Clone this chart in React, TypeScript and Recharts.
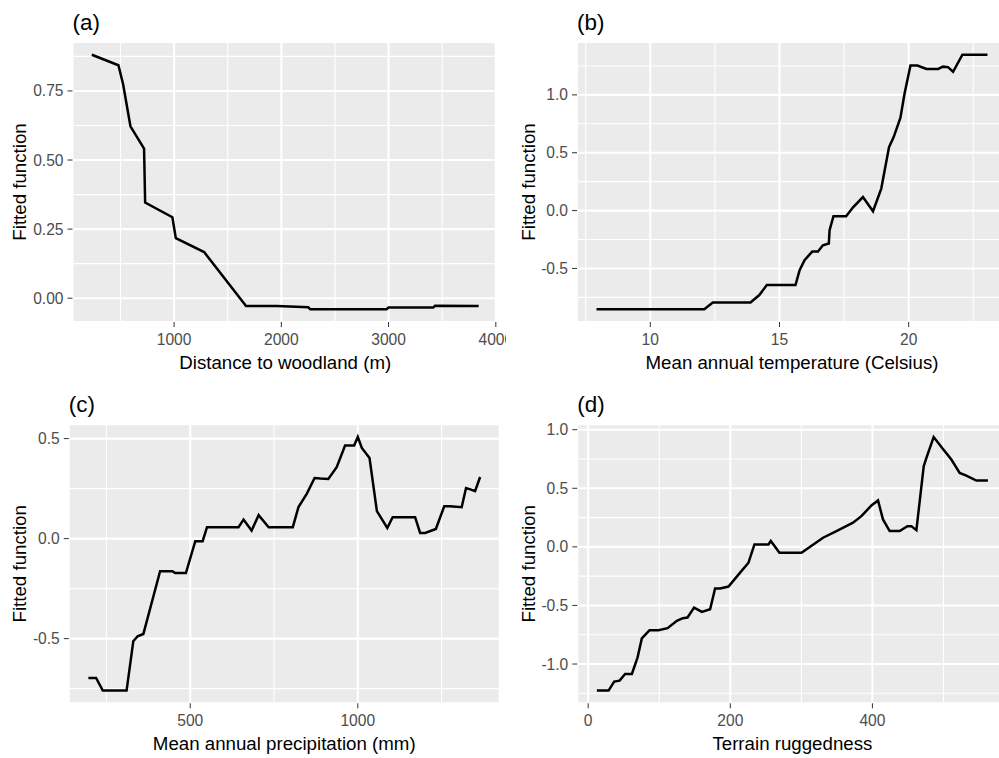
import React from 'react';
import { LineChart, Line, XAxis, YAxis, CartesianGrid } from 'recharts';

const FONT = '"Liberation Sans", Arial, Helvetica, sans-serif';

// (a) distance to woodland
const woodDist = [233, 481, 525, 593, 720, 730, 984, 1016, 1280, 1671, 1957, 2252, 2270, 2981, 3000, 3417, 3433, 3840];
const woodFit = [0.881, 0.843, 0.773, 0.622, 0.541, 0.346, 0.293, 0.217, 0.167, -0.028, -0.028, -0.033, -0.04, -0.04, -0.034, -0.034, -0.027, -0.028];
const woodTicks = [1000, 2000, 3000, 4000];
const woodMinor = [500, 1500, 2500, 3500];
const woodFitTicks = [0, 0.25, 0.5, 0.75];
const woodFitMinor = [0.125, 0.375, 0.625, 0.875];

// (b) mean annual temperature
const tempX = [7.92, 12.09, 12.42, 13.88, 14.22, 14.51, 15.62, 15.78, 15.97, 16.27, 16.49, 16.68, 16.91, 16.94, 17.09, 17.58, 17.84, 18.23, 18.62, 18.94, 19.24, 19.42, 19.68, 19.84, 20.07, 20.34, 20.69, 21.14, 21.33, 21.52, 21.72, 22.08, 23.05];
const tempFit = [-0.853, -0.853, -0.795, -0.795, -0.73, -0.644, -0.644, -0.515, -0.428, -0.354, -0.354, -0.3, -0.285, -0.17, -0.049, -0.049, 0.026, 0.117, -0.006, 0.19, 0.548, 0.635, 0.8, 1.01, 1.253, 1.253, 1.224, 1.224, 1.244, 1.24, 1.2, 1.347, 1.347];
const tempTicks = [10, 15, 20];
const tempMinor = [7.5, 12.5, 17.5, 22.5];
const tempFitTicks = [-0.5, 0, 0.5, 1];
const tempFitMinor = [-0.75, -0.25, 0.25, 0.75, 1.25];

// (c) mean annual precipitation
const precipX = [196, 219, 239, 310, 330, 343, 360, 410, 447, 455, 487, 515, 537, 550, 644, 659, 683, 704, 734, 806, 823, 848, 871, 888, 912, 937, 962, 989, 1000, 1012, 1035, 1057, 1088, 1104, 1171, 1186, 1201, 1233, 1258, 1275, 1310, 1323, 1338, 1350, 1365];
const precipFit = [-0.697, -0.697, -0.76, -0.76, -0.513, -0.488, -0.477, -0.163, -0.163, -0.172, -0.172, -0.013, -0.013, 0.057, 0.057, 0.095, 0.04, 0.117, 0.057, 0.057, 0.158, 0.225, 0.303, 0.3, 0.298, 0.357, 0.465, 0.465, 0.508, 0.453, 0.403, 0.137, 0.053, 0.107, 0.107, 0.028, 0.028, 0.048, 0.162, 0.162, 0.157, 0.253, 0.245, 0.237, 0.308];
const precipTicks = [500, 1000];
const precipMinor = [250, 750, 1250];
const precipFitTicks = [-0.5, 0, 0.5];
const precipFitMinor = [-0.75, -0.25, 0.25];

// (d) terrain ruggedness
const ruggedX = [12.2, 28.7, 36.6, 44.2, 52, 61.5, 69.5, 75.5, 86.4, 99, 111.7, 124.8, 133.2, 139.8, 149, 160, 171.6, 178.6, 185.7, 197.5, 213.8, 225.6, 234, 253.7, 257, 269.2, 300.2, 330.5, 349.4, 372.7, 384.5, 398.6, 407.9, 414.9, 424.3, 438.4, 449.2, 454.8, 461.9, 472.2, 476, 486.2, 499.3, 511.1, 522.8, 532.2, 546.3, 562.6];
const ruggedFit = [-1.227, -1.227, -1.15, -1.142, -1.085, -1.085, -0.943, -0.781, -0.711, -0.711, -0.694, -0.631, -0.609, -0.603, -0.518, -0.555, -0.532, -0.356, -0.356, -0.339, -0.22, -0.135, 0.021, 0.021, 0.05, -0.05, -0.05, 0.078, 0.135, 0.206, 0.262, 0.353, 0.396, 0.234, 0.135, 0.135, 0.177, 0.177, 0.143, 0.688, 0.759, 0.938, 0.836, 0.745, 0.631, 0.609, 0.566, 0.566];
const ruggedTicks = [0, 200, 400];
const ruggedMinor = [100, 300, 500];
const ruggedFitTicks = [-1, -0.5, 0, 0.5, 1];
const ruggedFitMinor = [-1.25, -0.75, -0.25, 0.25, 0.75];

// ggplot-style 5% expansion around the data range
const expand = (v: number[]): [number, number] => {
  const lo = Math.min(...v);
  const hi = Math.max(...v);
  const pad = (hi - lo) * 0.05;
  return [lo - pad, hi + pad];
};

type Box = { l: number; t: number; r: number; b: number };

type PanelProps = {
  tag: string;
  xTitle: string;
  xs: number[];
  ys: number[];
  xTicks: number[];
  xMinor: number[];
  yTicks: number[];
  yMinor: number[];
  yDigits: number;
  left: number;
  top: number;
  width: number;
  height: number;
  plot: Box;
  yTitleX: number;
};

const X_AXIS_H = 40;

function Panel(p: PanelProps) {
  const rows = p.xs.map((x, i) => ({ x, y: p.ys[i] }));
  const margin = {
    top: p.plot.t,
    left: 0,
    right: p.width - p.plot.r,
    bottom: p.height - p.plot.b - X_AXIS_H,
  };
  const midX = (p.plot.l + p.plot.r) / 2;
  const midY = (p.plot.t + p.plot.b) / 2;
  const tickStyle = { fill: '#4D4D4D', fontSize: 15.6, fontFamily: FONT };

  return (
    <div style={{ position: 'absolute', left: p.left, top: p.top, width: p.width, height: p.height }}>
      <LineChart width={p.width} height={p.height} data={rows} margin={margin}>
        <CartesianGrid
          fill="#EBEBEB"
          stroke="#FFFFFF"
          strokeWidth={1.1}
          horizontalValues={p.yMinor}
          verticalValues={p.xMinor}
        />
        <CartesianGrid stroke="#FFFFFF" strokeWidth={2.1} />
        <XAxis
          dataKey="x"
          type="number"
          domain={expand(p.xs)}
          allowDataOverflow
          ticks={p.xTicks}
          interval={0}
          height={X_AXIS_H}
          axisLine={false}
          tickSize={5}
          tickMargin={6.5}
          tickLine={{ stroke: '#333333' }}
          tick={tickStyle}
          label={() => (
            <text x={midX} y={p.plot.b + 46.5} textAnchor="middle" fontSize={18.7} fontFamily={FONT} fill="#000">
              {p.xTitle}
            </text>
          )}
        />
        <YAxis
          type="number"
          domain={expand(p.ys)}
          allowDataOverflow
          ticks={p.yTicks}
          interval={0}
          width={p.plot.l}
          axisLine={false}
          tickSize={5}
          tickMargin={4}
          tickLine={{ stroke: '#333333' }}
          tick={tickStyle}
          tickFormatter={(v: number) => v.toFixed(p.yDigits)}
          label={() => (
            <text
              x={p.yTitleX}
              y={midY}
              transform={`rotate(-90 ${p.yTitleX} ${midY})`}
              textAnchor="middle"
              fontSize={18.7}
              fontFamily={FONT}
              fill="#000"
            >
              Fitted function
            </text>
          )}
        />
        <Line
          type="linear"
          dataKey="y"
          stroke="#000000"
          strokeWidth={2.5}
          dot={false}
          activeDot={false}
          isAnimationActive={false}
        />
      </LineChart>
      <svg width={p.width} height={p.plot.t} style={{ position: 'absolute', left: 0, top: 0 }}>
        <text x={p.plot.l} y={p.plot.t - 12} fontSize={22.4} fontFamily={FONT} fill="#000">
          {p.tag}
        </text>
      </svg>
    </div>
  );
}

export default function App() {
  return (
    <div
      style={{
        position: 'absolute',
        left: 0,
        top: 0,
        width: 999,
        height: 758,
        overflow: 'hidden',
        background: '#FFFFFF',
        fontFamily: FONT,
      }}
    >
      <Panel
        tag="(a)"
        xTitle="Distance to woodland (m)"
        xs={woodDist}
        ys={woodFit}
        xTicks={woodTicks}
        xMinor={woodMinor}
        yTicks={woodFitTicks}
        yMinor={woodFitMinor}
        yDigits={2}
        left={0}
        top={0}
        width={506}
        height={380}
        plot={{ l: 72.5, t: 42, r: 498, b: 322 }}
        yTitleX={26}
      />
      <Panel
        tag="(b)"
        xTitle="Mean annual temperature (Celsius)"
        xs={tempX}
        ys={tempFit}
        xTicks={tempTicks}
        xMinor={tempMinor}
        yTicks={tempFitTicks}
        yMinor={tempFitMinor}
        yDigits={1}
        left={500}
        top={0}
        width={510}
        height={380}
        plot={{ l: 77, t: 42, r: 507, b: 322 }}
        yTitleX={35}
      />
      <Panel
        tag="(c)"
        xTitle="Mean annual precipitation (mm)"
        xs={precipX}
        ys={precipFit}
        xTicks={precipTicks}
        xMinor={precipMinor}
        yTicks={precipFitTicks}
        yMinor={precipFitMinor}
        yDigits={1}
        left={0}
        top={380}
        width={506}
        height={378}
        plot={{ l: 68.8, t: 44.3, r: 499.7, b: 323.3 }}
        yTitleX={26}
      />
      <Panel
        tag="(d)"
        xTitle="Terrain ruggedness"
        xs={ruggedX}
        ys={ruggedFit}
        xTicks={ruggedTicks}
        xMinor={ruggedMinor}
        yTicks={ruggedFitTicks}
        yMinor={ruggedFitMinor}
        yDigits={1}
        left={500}
        top={380}
        width={510}
        height={378}
        plot={{ l: 77.3, t: 44.3, r: 507.5, b: 323.3 }}
        yTitleX={35}
      />
    </div>
  );
}
